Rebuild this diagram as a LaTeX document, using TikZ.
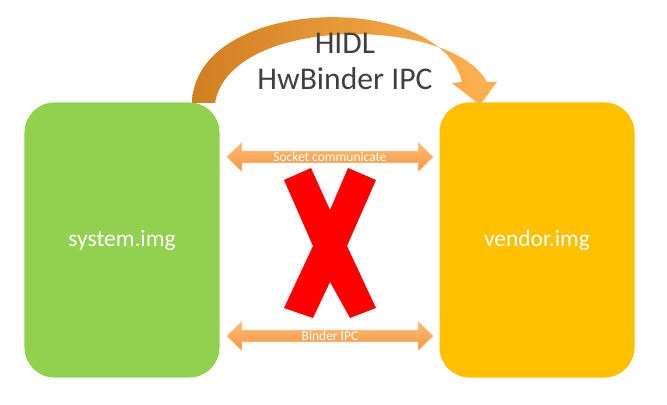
\documentclass[tikz,border=0pt]{standalone}
\usepackage{fontspec}
\setmainfont{Carlito}
\usetikzlibrary{shapes.arrows}
\definecolor{imggreen}{HTML}{92D050}
\definecolor{imgorange}{HTML}{FFC000}
\definecolor{linkorange}{HTML}{F79646}
\definecolor{linklight}{HTML}{FDBB72}
\definecolor{linkedge}{HTML}{FCD3A5}
\definecolor{hidldark}{HTML}{D07F20}
\definecolor{hidllight}{HTML}{FFB24F}
\definecolor{crossred}{HTML}{FF0000}
\definecolor{labelgray}{HTML}{404040}
\begin{document}
\begin{tikzpicture}[
  x=0.03cm, y=-0.03cm,
  image/.style={rectangle, rounded corners=0.9cm, minimum width=5.85cm, minimum height=8.25cm, text=white, font=\fontsize{20}{24}\selectfont},
  link/.style={double arrow, double arrow head extend=0.22cm, double arrow tip angle=88, minimum width=0.88cm, minimum height=6.2cm, inner sep=0pt, top color=linklight, bottom color=linkorange, draw=linkedge, line width=0.4pt, text=white, font=\fontsize{11.5}{12}\selectfont},
  title/.style={text=labelgray, font=\fontsize{27}{30}\selectfont}
]
\useasboundingbox (0,0) rectangle (667,405);

\node[image, fill=imggreen] (system) at (122,240) {system.img};
\node[image, fill=imgorange] (vendor) at (537,240) {vendor.img};

\node[link] (socket) at (330,157) {Socket communicate};
\node[link] (binder) at (330,336) {Binder IPC};

% HIDL curved arrow
\shade[left color=hidldark, right color=hidllight]
  (192,103) .. controls (195,-5) and (440,-10) .. (462,82)
  -- (452,83) -- (480,105) -- (497,82) -- (487,82)
  .. controls (450,15) and (230,15) .. (215,103) -- cycle;

\node[title] (hidl) at (345,43) {HIDL};
\node[title] (hwbinder) at (345,79) {HwBinder IPC};

% red cross
\fill[crossred] (284,180) -- (311,168) -- (330,210) -- (348,168) -- (376,180)
  -- (347,246) -- (376,308) -- (350,318) -- (330,282) -- (313,318)
  -- (284,308) -- (313,246) -- cycle;

\end{tikzpicture}
\end{document}
